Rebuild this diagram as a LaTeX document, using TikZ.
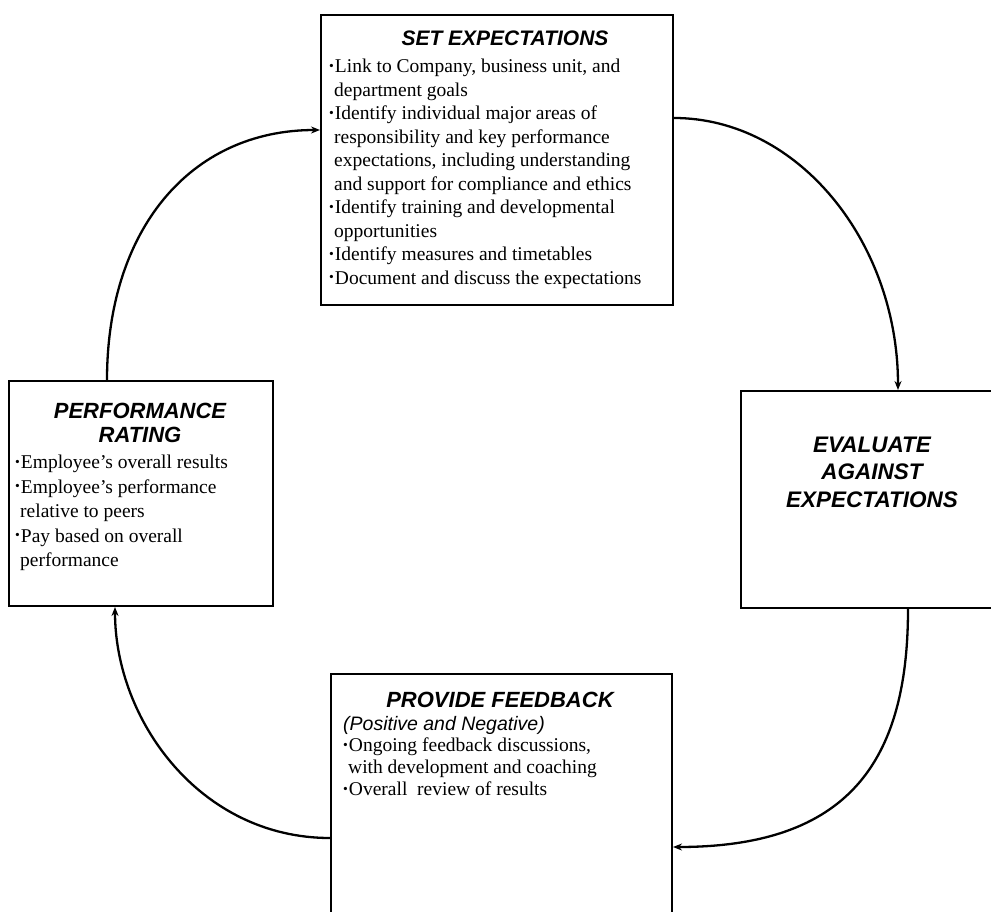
\documentclass[tikz,border=0pt]{standalone}
\usepackage{fontspec}
\usepackage{graphicx}
\setmainfont{Liberation Serif}
\setsansfont{Liberation Sans}
\usetikzlibrary{calc,arrows.meta}
\newcommand\bul{\raisebox{0.25ex}{\scalebox{0.7}{\textbullet}}\hspace{1pt}}
\newcommand\ind{\hspace{5pt}}
\begin{document}
\begin{tikzpicture}[x=1pt,y=-1pt,
  box/.style={draw=black, line width=2pt, inner sep=0pt, anchor=north west},
  ttl/.style={font=\sffamily\bfseries\itshape\fontsize{22}{27}\selectfont, align=center, inner sep=0pt},
  body/.style={font=\fontsize{19.5}{23.5}\selectfont, align=left, inner sep=0pt, anchor=north west},
  conn/.style={line width=2.3pt, -{Stealth[length=9pt,width=7pt]}}]
\useasboundingbox (0,0) rectangle (991,912);
\clip (0,0) rectangle (991,912);
% boxes
\node[box, minimum width=352pt, minimum height=290pt] (set) at (320,14) {};
\node[box, minimum width=265pt, minimum height=217pt] (eval) at (740,390) {};
\node[box, minimum width=341pt, minimum height=260pt] (feed) at (330,673) {};
\node[box, minimum width=264pt, minimum height=225pt] (perf) at (8,380) {};
% set expectations
\node[ttl, font=\sffamily\bfseries\itshape\fontsize{21}{25}\selectfont] (setT) at (505,38) {SET EXPECTATIONS};
\node[body] (setB) at (329,59) {\bul Link to Company, business unit, and\\
\ind department goals\\
\bul Identify individual major areas of\\
\ind responsibility and key performance\\
\ind expectations, including understanding\\
\ind and support for compliance and ethics\\
\bul Identify training and developmental\\
\ind opportunities\\
\bul Identify measures and timetables\\
\bul Document and discuss the expectations};
% evaluate
\node[ttl, font=\sffamily\bfseries\itshape\fontsize{22.5}{27.5}\selectfont] (evalT) at (872,472) {EVALUATE\\AGAINST\\EXPECTATIONS};
% feedback
\node[ttl] (feedT) at (500,700) {PROVIDE FEEDBACK};
\node[inner sep=0pt, anchor=west, font=\sffamily\itshape\fontsize{19.5}{23}\selectfont] (feedS) at (343,725) {(Positive and Negative)};
\node[body, font=\fontsize{19.5}{22}\selectfont] (feedB) at (343,738) {\bul Ongoing feedback discussions,\\
\ind with development and coaching\\
\bul Overall\ \ review of results};
% performance rating
\node[ttl, font=\sffamily\bfseries\itshape\fontsize{22}{24}\selectfont] (perfT) at (140,423) {PERFORMANCE\\RATING};
\node[body, font=\fontsize{19.5}{24.5}\selectfont] (perfB) at (15,455) {\bul Employee's overall results\\
\bul Employee's performance\\
\ind relative to peers\\
\bul Pay based on overall\\
\ind performance};
% connectors
\draw[conn] ($(set.north east)+(0,104)$) .. controls +(124,0) and +(0,-148) .. ($(eval.north west)+(158,0)$);
\draw[conn] ($(eval.south west)+(168,0)$) .. controls +(0,153) and +(175,0) .. ($(feed.north east)+(0,174)$);
\draw[conn] ($(feed.north west)+(0,165)$) .. controls +(-130,0) and +(0,113) .. ($(perf.south west)+(107,0)$);
\draw[conn] ($(perf.north west)+(99,0)$) .. controls +(0,-150) and +(-130,0) .. ($(set.north west)+(0,116)$);
\end{tikzpicture}
\end{document}
